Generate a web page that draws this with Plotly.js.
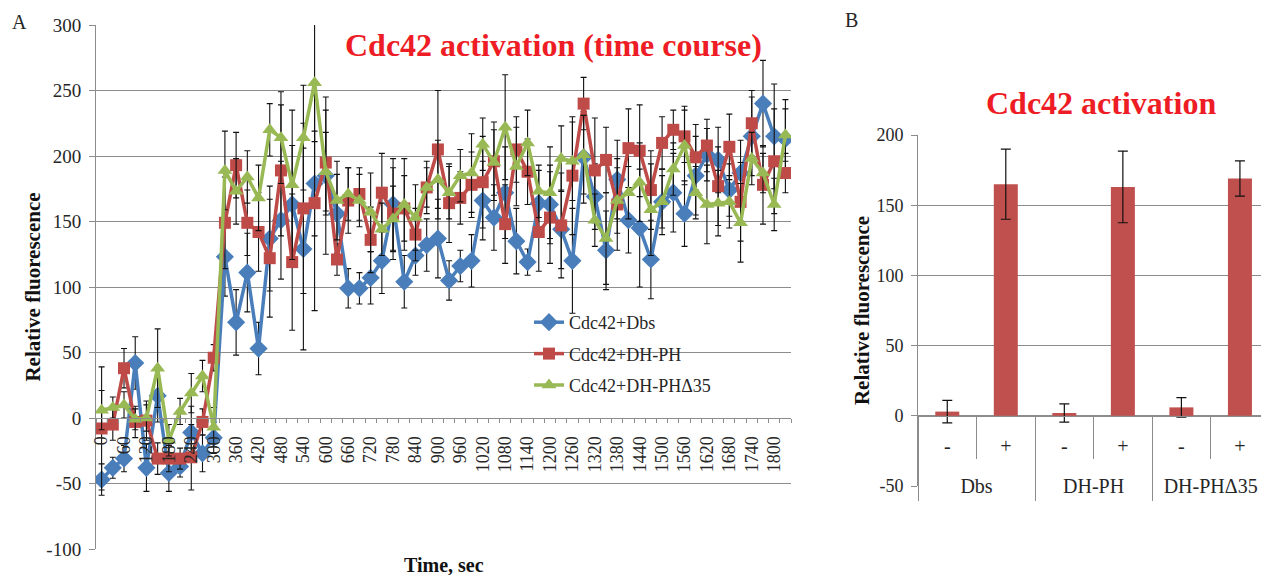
<!DOCTYPE html>
<html>
<head>
<meta charset="utf-8">
<script src="https://cdn.plot.ly/plotly-3.0.1.min.js"></script>
<style>html,body{margin:0;padding:0;background:#fff;}#chart{width:1261px;height:575px;}</style>
</head>
<body>
<div id="chart"></div>
<script>
// ---------- Panel A: time course ----------
const timeSec = [0,30,60,90,120,150,180,210,240,270,300,330,360,390,420,450,480,510,540,570,600,630,660,690,720,750,780,810,840,870,900,930,960,990,1020,1050,1080,1110,1140,1170,1200,1230,1260,1290,1320,1350,1380,1410,1440,1470,1500,1530,1560,1590,1620,1650,1680,1710,1740,1770,1800,1830];
const timeTickVals = [0,60,120,180,240,300,360,420,480,540,600,660,720,780,840,900,960,1020,1080,1140,1200,1260,1320,1380,1440,1500,1560,1620,1680,1740,1800];
const aTickVals = [-100,-50,0,50,100,150,200,250,300];

const dbsValues = [-47,-38,-31,42,-38,17,-42,-37,-11,-27,-15,123,73,111,53,137,151,163,129,179,185,156,99,99,107,120,163,104,124,132,137,105,116,120,166,153,172,135,119,164,163,144,120,199,169,128,182,151,145,121,165,172,156,185,201,197,174,187,215,240,215,213];
const dbsErr = [12,8,10,20,18,20,14,8,20,14,12,30,25,30,20,40,45,45,77,40,60,30,15,12,20,25,35,20,15,20,30,15,12,20,30,25,35,25,10,25,30,30,40,35,25,30,30,25,45,30,20,30,25,30,20,25,20,25,30,33,40,30];

const dhphValues = [-8,-5,38,-3,-2,-31,-31,-31,-30,-3,46,149,193,149,142,122,189,119,160,164,195,121,166,171,136,172,156,160,140,176,205,164,168,178,180,196,148,205,188,142,153,147,185,240,189,197,163,206,204,174,210,220,215,199,208,177,207,165,225,178,196,187];
const dhphErr = [47,12,15,12,15,12,10,8,25,10,10,35,25,25,30,45,50,52,65,82,40,12,25,20,25,30,35,25,20,15,45,30,20,25,35,30,30,25,25,30,35,40,45,20,40,25,35,30,35,30,20,15,20,25,20,30,25,30,25,30,40,15];

const dhph35Values = [6,8,10,-1,0,38,-17,5,19,32,-7,189,173,184,168,220,214,178,214,256,188,166,171,166,157,144,152,163,153,176,182,172,185,187,209,195,222,192,210,173,172,198,196,201,151,137,166,172,180,159,165,190,208,172,163,164,165,149,198,187,163,216];
const dhph35Err = [15,8,10,8,10,30,12,10,15,12,15,30,25,20,25,20,35,57,40,45,30,30,20,20,30,20,25,35,25,20,30,20,20,30,20,25,40,30,25,20,35,25,30,30,20,35,25,20,30,35,25,20,30,20,30,25,20,30,20,15,20,20];

const seriesNames = ['Cdc42+Dbs','Cdc42+DH-PH','Cdc42+DH-PH\u039435'];

// ---------- Panel B: end point ----------
const groupLabels = ['Dbs','Dbs','DH-PH','DH-PH','DH-PH\u039435','DH-PH\u039435'];
const condLabels = ['-','+','-','+','-','+'];
const barValues = [3,165,2,163,6,169];
const barErr = [8,25,6.5,25.5,7,12.5];
const bTickVals = [-50,0,50,100,150,200];

// ---------- derived positions (from data) ----------
const barIdx = barValues.map((_, i) => i);
const groupNames = [...new Set(groupLabels)];
const groupCenters = groupNames.map(g => {
  const idx = barIdx.filter(i => groupLabels[i] === g);
  return idx.reduce((a, b) => a + b, 0) / idx.length;
});

// ---------- styling ----------
const W = 1261, H = 575;
const serif = '"Liberation Serif", "Times New Roman", serif';
const gridC = '#8c8c8c';
const blue = '#4a7ebb', red = '#be4b48', green = '#98b954';
const titleRed = '#ee1c25';
const txt = '#262626';

const aX = [96/W, 791/W], aY = [1-549/H, 1-25/H];
const bX = [918/W, 1], bY = [1-486/H, 1-135/H];
const aRange = [-100, 300], bRange = [-50, 200];
const aZeroPos = aY[0] + (0-aRange[0])/(aRange[1]-aRange[0])*(aY[1]-aY[0]);
const bZeroPos = bY[0] + (0-bRange[0])/(bRange[1]-bRange[0])*(bY[1]-bY[0]);
const bXRange = [-0.5, 5.36];

function lineTrace(y, err, name, color, symbol, size, grp){
  return {
    type:'scatter', mode:'lines+markers', x: timeSec, y: y, name: name,
    legendgroup: grp, xaxis:'x', yaxis:'y',
    line:{color:color, width:3.5},
    marker:{color:color, symbol:symbol, size:size, line:{width:0}},
    error_y:{type:'data', array: err, visible:true, color:'#111', thickness:1.1, width:3}
  };
}

const traces = [
  lineTrace(dbsValues, dbsErr, seriesNames[0], blue, 'diamond', 14, 'g1'),
  lineTrace(dhphValues, dhphErr, seriesNames[1], red, 'square', 12, 'g2'),
  lineTrace(dhph35Values, dhph35Err, seriesNames[2], green, 'triangle-up', 13, 'g3'),
  {
    type:'bar', x: barIdx, y: barValues, xaxis:'x2', yaxis:'y2',
    marker:{color:'#c0504d'}, width:0.41, showlegend:false, hoverinfo:'skip',
    error_y:{type:'data', array: barErr, visible:true, color:'#111', thickness:1.2, width:5}
  },
  {
    type:'scatter', mode:'markers', x: groupCenters, y: groupCenters.map(() => null),
    xaxis:'x3', yaxis:'y2', showlegend:false, hoverinfo:'skip', marker:{opacity:0}
  }
];

const layout = {
  width: W, height: H,
  margin:{l:0,r:0,t:0,b:0},
  paper_bgcolor:'#fff', plot_bgcolor:'rgba(0,0,0,0)',
  font:{family: serif, size:16, color:txt},
  showlegend:true,
  legend:{x:529/W, y:1-304/H, xanchor:'left', yanchor:'top', bgcolor:'rgba(0,0,0,0)',
          font:{family:serif, size:18, color:txt}, tracegroupgap:5},
  xaxis:{
    domain:aX, type:'linear', range:[-15,1845], anchor:'free', position:aZeroPos,
    showgrid:false, zeroline:false, showline:true, linecolor:gridC, linewidth:1,
    tickmode:'array', tickvals: timeTickVals, ticktext: timeTickVals.map(String), ticks:'', tickangle:-90,
    tickfont:{family:serif, size:18, color:txt}, ticklabelstandoff:10,
    minor:{tick0:15, dtick:30, ticks:'outside', ticklen:4, tickcolor:gridC, showgrid:false}
  },
  yaxis:{
    domain:aY, range:aRange, anchor:'x',
    tickmode:'array', tickvals:aTickVals, ticktext:aTickVals.map(String),
    showgrid:true, gridcolor:gridC, gridwidth:1, zeroline:false,
    showline:true, linecolor:gridC, linewidth:1, ticks:'outside', ticklen:6, tickcolor:gridC,
    tickfont:{family:serif, size:19, color:txt}, ticklabelstandoff:4,
    title:{text:'<b>Relative fluorescence</b>', font:{family:serif, size:21, color:'#111', weight:'bold'}, standoff:0}
  },
  xaxis2:{
    domain:bX, type:'linear', anchor:'free', position:bZeroPos, range:bXRange,
    showgrid:false, zeroline:false, showline:true, linecolor:gridC,
    tickmode:'array', tickvals: barIdx, ticktext: condLabels, ticks:'',
    tickfont:{family:serif, size:20, color:txt}, ticklabelstandoff:12,
    minor:{tick0:0.5, dtick:1, ticks:'outside', ticklen:42, tickcolor:gridC, showgrid:false}
  },
  xaxis3:{
    domain:bX, type:'linear', anchor:'free', position:bZeroPos, range:bXRange, overlaying:'x2',
    showgrid:false, zeroline:false, showline:false,
    tickmode:'array', tickvals: groupCenters, ticktext: groupNames, ticks:'',
    tickfont:{family:serif, size:20, color:txt}, ticklabelstandoff:56,
    minor:{tick0:-0.5, dtick:2, ticks:'outside', ticklen:84, tickcolor:gridC, showgrid:false}
  },
  yaxis2:{
    domain:bY, range:bRange, anchor:'x2',
    tickmode:'array', tickvals:bTickVals, ticktext:bTickVals.map(String),
    showgrid:true, gridcolor:gridC, gridwidth:1, zeroline:false,
    showline:true, linecolor:gridC, ticks:'outside', ticklen:6, tickcolor:gridC,
    tickfont:{family:serif, size:18, color:txt}, ticklabelstandoff:4,
    title:{text:'<b>Relative fluorescence</b>', font:{family:serif, size:21, color:'#111', weight:'bold'}, standoff:1}
  },
  annotations:[
    {xref:'paper', yref:'paper', x:553/W, y:1-45/H, text:'<b>Cdc42 activation (time course)</b>', showarrow:false,
     font:{family:serif, size:32, color:titleRed, weight:'bold'}, xanchor:'center', yanchor:'middle'},
    {xref:'paper', yref:'paper', x:1101/W, y:1-103/H, text:'<b>Cdc42 activation</b>', showarrow:false,
     font:{family:serif, size:32, color:titleRed, weight:'bold'}, xanchor:'center', yanchor:'middle'},
    {xref:'paper', yref:'paper', x:444/W, y:1-565/H, text:'<b>Time, sec</b>', showarrow:false,
     font:{family:serif, size:20, color:'#111', weight:'bold'}, xanchor:'center', yanchor:'middle'},
    {xref:'paper', yref:'paper', x:19/W, y:1-22/H, text:'A', showarrow:false,
     font:{family:serif, size:20, color:txt}, xanchor:'center', yanchor:'middle'},
    {xref:'paper', yref:'paper', x:851/W, y:1-20/H, text:'B', showarrow:false,
     font:{family:serif, size:20, color:txt}, xanchor:'center', yanchor:'middle'}
  ]
};

Plotly.newPlot('chart', traces, layout, {displayModeBar:false, staticPlot:true});
</script>
</body>
</html>
